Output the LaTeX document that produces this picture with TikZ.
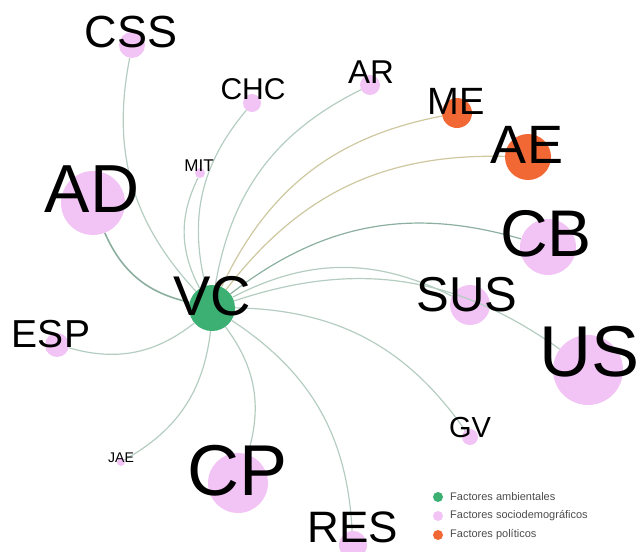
\documentclass[tikz,border=0pt]{standalone}
\usepackage{fontspec}
\setmainfont{Liberation Sans}
\definecolor{vcgreen}{RGB}{60,175,115}
\definecolor{pinkn}{RGB}{242,196,245}
\definecolor{orangen}{RGB}{242,104,52}
\definecolor{edgeP}{RGB}{180,205,193}
\definecolor{edgeD}{RGB}{140,175,160}
\definecolor{edgeO}{RGB}{205,200,160}
\begin{document}
\begin{tikzpicture}[x=1pt,y=-1pt,
  dot/.style={circle,inner sep=0pt,draw=none},
  pdot/.style={dot,fill=pinkn},
  odot/.style={dot,fill=orangen},
  gdot/.style={dot,fill=vcgreen},
  lab/.style={inner sep=0pt,text=black},
  edge/.style={draw=edgeP,line width=1.2pt,bend left=27},
  oedge/.style={edge,draw=edgeO},
  dedge/.style={edge,draw=edgeD},
  leg/.style={inner sep=0pt,anchor=west,font=\fontsize{11}{12}\selectfont,text=black!70}]
\useasboundingbox (0,0) rectangle (641,552);
% nodes (circles)
\node[gdot,minimum size=46pt] (vc) at (212,308) {};
\node[pdot,minimum size=26pt] (css) at (132,45) {};
\node[pdot,minimum size=18pt] (chc) at (252,103) {};
\node[pdot,minimum size=20pt] (ar) at (370,85) {};
\node[odot,minimum size=30pt] (me) at (457,113) {};
\node[odot,minimum size=46pt] (ae) at (528,157) {};
\node[pdot,minimum size=10pt] (mit) at (200,173) {};
\node[pdot,minimum size=64pt] (ad) at (93,203) {};
\node[pdot,minimum size=56pt] (cb) at (548,247) {};
\node[pdot,minimum size=40pt] (sus) at (470,305) {};
\node[pdot,minimum size=70pt] (us) at (588,370) {};
\node[pdot,minimum size=24pt] (esp) at (57,345) {};
\node[pdot,minimum size=16pt] (gv) at (470,437) {};
\node[pdot,minimum size=8pt] (jae) at (121,462) {};
\node[pdot,minimum size=60pt] (cp) at (238,483) {};
\node[pdot,minimum size=28pt] (res) at (353,545) {};
% edges
\draw[edge] (vc) to (css);
\draw[edge] (vc) to (chc);
\draw[edge] (vc) to (ar);
\draw[oedge] (vc) to (me);
\draw[oedge] (vc) to (ae);
\draw[edge] (vc) to (mit);
\draw[dedge,line width=1.6pt] (vc) to (ad);
\draw[dedge] (vc) to (cb);
\draw[edge] (vc) to (sus);
\draw[edge] (vc) to (us);
\draw[edge] (vc) to (esp);
\draw[edge] (vc) to (gv);
\draw[edge] (vc) to (jae);
\draw[edge] (vc) to (cp);
\draw[edge] (vc) to (res);
% labels
\node[lab,font=\fontsize{45}{45}\selectfont] (lcss) at (131,32) {CSS};
\node[lab,font=\fontsize{30}{30}\selectfont] (lchc) at (253,89) {CHC};
\node[lab,font=\fontsize{33}{33}\selectfont] (lar) at (371,72) {AR};
\node[lab,font=\fontsize{38}{38}\selectfont] (lme) at (456,101) {ME};
\node[lab,font=\fontsize{54}{54}\selectfont] (lae) at (527,145) {AE};
\node[lab,font=\fontsize{17}{17}\selectfont] (lmit) at (199,166) {MIT};
\node[lab,font=\fontsize{68}{68}\selectfont] (lad) at (92,189) {AD};
\node[lab,font=\fontsize{66}{66}\selectfont] (lcb) at (546,234) {CB};
\node[lab,font=\fontsize{49}{49}\selectfont] (lsus) at (467,295) {SUS};
\node[lab,font=\fontsize{72}{72}\selectfont] (lus) at (590,352) {US};
\node[lab,font=\fontsize{44}{44}\selectfont] (lres) at (353,527) {RES};
\node[lab,font=\fontsize{39}{39}\selectfont] (lesp) at (51,334) {ESP};
\node[lab,font=\fontsize{29}{29}\selectfont] (lgv) at (470,428) {GV};
\node[lab,font=\fontsize{14}{14}\selectfont] (ljae) at (121,458) {JAE};
\node[lab,font=\fontsize{72}{72}\selectfont] (lcp) at (238,471) {CP};
\node[lab,font=\fontsize{56}{56}\selectfont] (lvc) at (212,296) {VC};
% legend
\node[gdot,minimum size=10pt] (lg1) at (438,497) {};
\node[pdot,minimum size=10pt] (lg2) at (438,516) {};
\node[odot,minimum size=10pt] (lg3) at (438,535) {};
\node[leg] (lt1) at (450,497) {Factores ambientales};
\node[leg] (lt2) at (450,516) {Factores sociodemográficos};
\node[leg] (lt3) at (450,535) {Factores políticos};
\end{tikzpicture}
\end{document}
